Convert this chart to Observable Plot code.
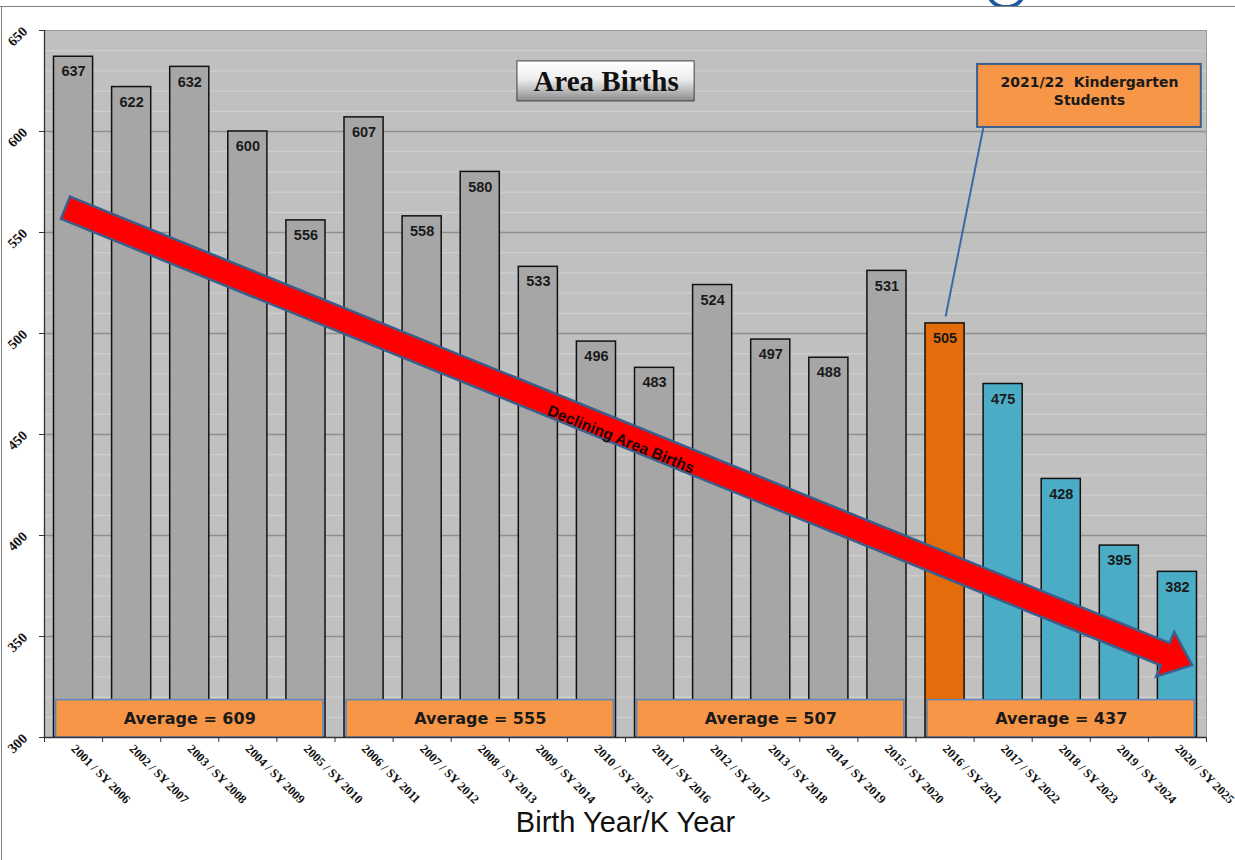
<!DOCTYPE html>
<html>
<head>
<meta charset="utf-8">
<script src="https://cdn.jsdelivr.net/npm/d3@7"></script>
<script src="https://cdn.jsdelivr.net/npm/@observablehq/plot@0.6"></script>
<style>
  html, body { margin: 0; padding: 0; background: #fff; }
  body { width: 1235px; height: 860px; position: relative; overflow: hidden; }
  #chart { position: absolute; left: 0; top: 0; }
  .border-top { position: absolute; left: 0; top: 6px; width: 1235px; height: 0; border-top: 1.5px solid #7f7f7f; }
  .border-left { position: absolute; left: 1px; top: 6px; width: 0; height: 854px; border-left: 1.5px solid #7f7f7f; }
  .logo-clip { position: absolute; left: 986px; top: 0; width: 40px; height: 6px; overflow: hidden; }
  .logo-clip div { position: absolute; left: 1px; top: -22px; width: 30px; height: 23px; border: 4px solid #1f5aa0; border-radius: 50%; }
</style>
</head>
<body>
<div class="logo-clip"><div></div></div>
<div class="border-top"></div>
<div class="border-left"></div>
<div id="chart"></div>
<script>
// ---- data ----
const birthYears = ["2001 / SY 2006","2002 / SY 2007","2003 / SY 2008","2004 / SY 2009","2005 / SY 2010",
  "2006 / SY 2011","2007 / SY 2012","2008 / SY 2013","2009 / SY 2014","2010 / SY 2015",
  "2011 / SY 2016","2012 / SY 2017","2013 / SY 2018","2014 / SY 2019","2015 / SY 2020",
  "2016 / SY 2021","2017 / SY 2022","2018 / SY 2023","2019 / SY 2024","2020 / SY 2025"];
const births = [637,622,632,600,556,607,558,580,533,496,483,524,497,488,531,505,475,428,395,382];
const barGroups = ["past","past","past","past","past","past","past","past","past","past",
  "past","past","past","past","past","current","future","future","future","future"];
const avgLabels = ["Average = 609","Average = 555","Average = 507","Average = 437"];
const avgStart = [0,5,10,15];
const avgEnd = [5,10,15,20];
const yTicks = [300,350,400,450,500,550,600,650];
const minorTicks = d3.range(310,650,10).filter(v => v % 50 !== 0);
const titleText = "Area Births";
const calloutText = "2021/22  Kindergarten\nStudents";
const arrowText = "Declining Area Births";
const axisTitle = "Birth Year/K Year";

// annotation anchors (in data units)
const arrowTail = {x: 0.37, y: 562};
const arrowTip = {x: 19.76, y: 335.6};
const calloutBox = {x1: 16.06, x2: 19.91, y1: 602, y2: 633.2};
const calloutLink = {x1: 16.16, y1: 602, x2: 15.51, y2: 508.4};
const titleBox = {x1: 8.14, x2: 11.19, y1: 614.9, y2: 634.7};
const avgTop = 318.5;

const groupColor = {past: "#a6a6a6", current: "#e46c0a", future: "#4bacc6"};

const bars = births.map((v, i) => ({i, v, label: birthYears[i], group: barGroups[i]}));
const avgs = avgLabels.map((t, k) => ({t, a: avgStart[k], b: avgEnd[k]}));

const serif = "'Liberation Serif', 'Times New Roman', serif";
const sans = "'Liberation Sans', Arial, sans-serif";
const gothic = "'DejaVu Sans', sans-serif";

const arrowMark = (index, {x, y}) => {
  const x0 = x(arrowTail.x), y0 = y(arrowTail.y), x1 = x(arrowTip.x), y1 = y(arrowTip.y);
  const dx = x1 - x0, dy = y1 - y0, L = Math.hypot(dx, dy);
  const ux = dx / L, uy = dy / L, px = -uy, py = ux;
  const hw = 12, hl = 29, hh = 24;
  const bx = x1 - ux * hl, by = y1 - uy * hl;
  const pts = [
    [x0 - px * hw, y0 - py * hw], [bx - px * hw, by - py * hw], [bx - px * hh, by - py * hh],
    [x1, y1], [bx + px * hh, by + py * hh], [bx + px * hw, by + py * hw], [x0 + px * hw, y0 + py * hw]
  ];
  const g = d3.create("svg:g");
  g.append("path")
    .attr("d", "M" + pts.map(p => p.join(",")).join("L") + "Z")
    .attr("fill", "#ff0000").attr("stroke", "#3a5f8c").attr("stroke-width", 2.5).attr("stroke-linejoin", "miter");
  const ang = Math.atan2(dy, dx) * 180 / Math.PI;
  const tx = x(9.93), ty = y(447.5);
  g.append("text")
    .attr("transform", `translate(${tx},${ty}) rotate(${ang})`)
    .attr("text-anchor", "middle").attr("dy", "0.35em")
    .attr("font-family", sans).attr("font-weight", "bold").attr("font-size", 15.5)
    .attr("fill", "#1a0505")
    .text(arrowText);
  return g.node();
};

const defsMark = () => {
  const d = d3.create("svg:defs");
  const lg = d.append("linearGradient").attr("id", "titleGrad").attr("x1", 0).attr("y1", 0).attr("x2", 0).attr("y2", 1);
  lg.append("stop").attr("offset", "0%").attr("stop-color", "#ffffff");
  lg.append("stop").attr("offset", "45%").attr("stop-color", "#eeeeee");
  lg.append("stop").attr("offset", "100%").attr("stop-color", "#8c8c8c");
  return d.node();
};

const chart = Plot.plot({
  width: 1235,
  height: 860,
  marginTop: 30,
  marginRight: 29,
  marginBottom: 123,
  marginLeft: 44,
  style: {background: "transparent", overflow: "visible"},
  x: {domain: [0, 20], axis: null},
  y: {domain: [300, 650], axis: null},
  color: {type: "identity"},
  marks: [
    defsMark,
    Plot.frame({fill: "#c0c0c0", stroke: "#9a9a9a"}),
    Plot.ruleY(minorTicks, {stroke: "#d2d2d2", strokeWidth: 1}),
    Plot.ruleY(yTicks.filter(v => v > 300 && v < 650), {stroke: "#8f8f8f", strokeWidth: 1.3}),
    Plot.rectY(bars, {x1: "i", x2: d => d.i + 1, y1: 300, y2: "v", insetLeft: 9.5, insetRight: 9.5,
      fill: d => groupColor[d.group], stroke: "#111", strokeWidth: 1.5}),
    Plot.text(bars, {x: d => d.i + 0.5, y: "v", text: d => String(d.v), dy: 15,
      fontFamily: sans, fontWeight: "bold", fontSize: 14.5, fill: "#1a1a1a"}),
    Plot.rect(avgs, {x1: d => d.a + 0.2, x2: d => d.b - 0.2, y1: 300, y2: avgTop,
      fill: "#f79646", stroke: "#5b86be", strokeWidth: 1.5}),
    Plot.text(avgs, {x: d => (d.a + d.b) / 2, y: (300 + avgTop) / 2, text: "t",
      fontFamily: gothic, fontWeight: "bold", fontSize: 16, fill: "#1a1a1a"}),
    // axes
    Plot.ruleX([0], {stroke: "#333", strokeWidth: 1.3}),
    Plot.ruleY([300], {stroke: "#333", strokeWidth: 1.3}),
    Plot.axisY(yTicks, {tickSize: 5, tickFormat: () => "", stroke: "#333"}),
    Plot.axisX(d3.range(0, 21), {tickSize: 5, tickFormat: () => "", stroke: "#333"}),
    Plot.text(yTicks, {y: d => d, frameAnchor: "left", text: d => String(d), rotate: -45,
      dx: -27, dy: 6, textAnchor: "middle", fontFamily: serif, fontWeight: "bold", fontSize: 14, fill: "#111"}),
    Plot.text(bars, {x: d => d.i + 0.5, frameAnchor: "bottom", text: "label", rotate: 45,
      dx: -3, dy: 12, textAnchor: "start", fontFamily: serif, fontWeight: "bold", fontSize: 12.4, fill: "#111"}),
    Plot.text([axisTitle], {frameAnchor: "bottom", dy: 94, fontFamily: sans, fontSize: 29, fill: "#111"}),
    // title box
    Plot.rect([titleBox], {x1: "x1", x2: "x2", y1: "y1", y2: "y2", fill: "url(#titleGrad)", stroke: "#404040", strokeWidth: 1}),
    Plot.text([titleText], {x: (titleBox.x1 + titleBox.x2) / 2, y: (titleBox.y1 + titleBox.y2) / 2,
      fontFamily: serif, fontWeight: "bold", fontSize: 29, fill: "#111"}),
    // arrow
    arrowMark,
    // callout
    Plot.link([calloutLink], {x1: "x1", y1: "y1", x2: "x2", y2: "y2", stroke: "#3d6aa5", strokeWidth: 2}),
    Plot.rect([calloutBox], {x1: "x1", x2: "x2", y1: "y1", y2: "y2", fill: "#f79646", stroke: "#3a5f8c", strokeWidth: 2}),
    Plot.text([calloutText], {x: (calloutBox.x1 + calloutBox.x2) / 2, y: (calloutBox.y1 + calloutBox.y2) / 2,
      dy: -6, lineHeight: 1.35, fontFamily: gothic, fontWeight: "bold", fontSize: 14, fill: "#1a1a1a"})
  ]
});
document.getElementById("chart").appendChild(chart);
</script>
</body>
</html>
